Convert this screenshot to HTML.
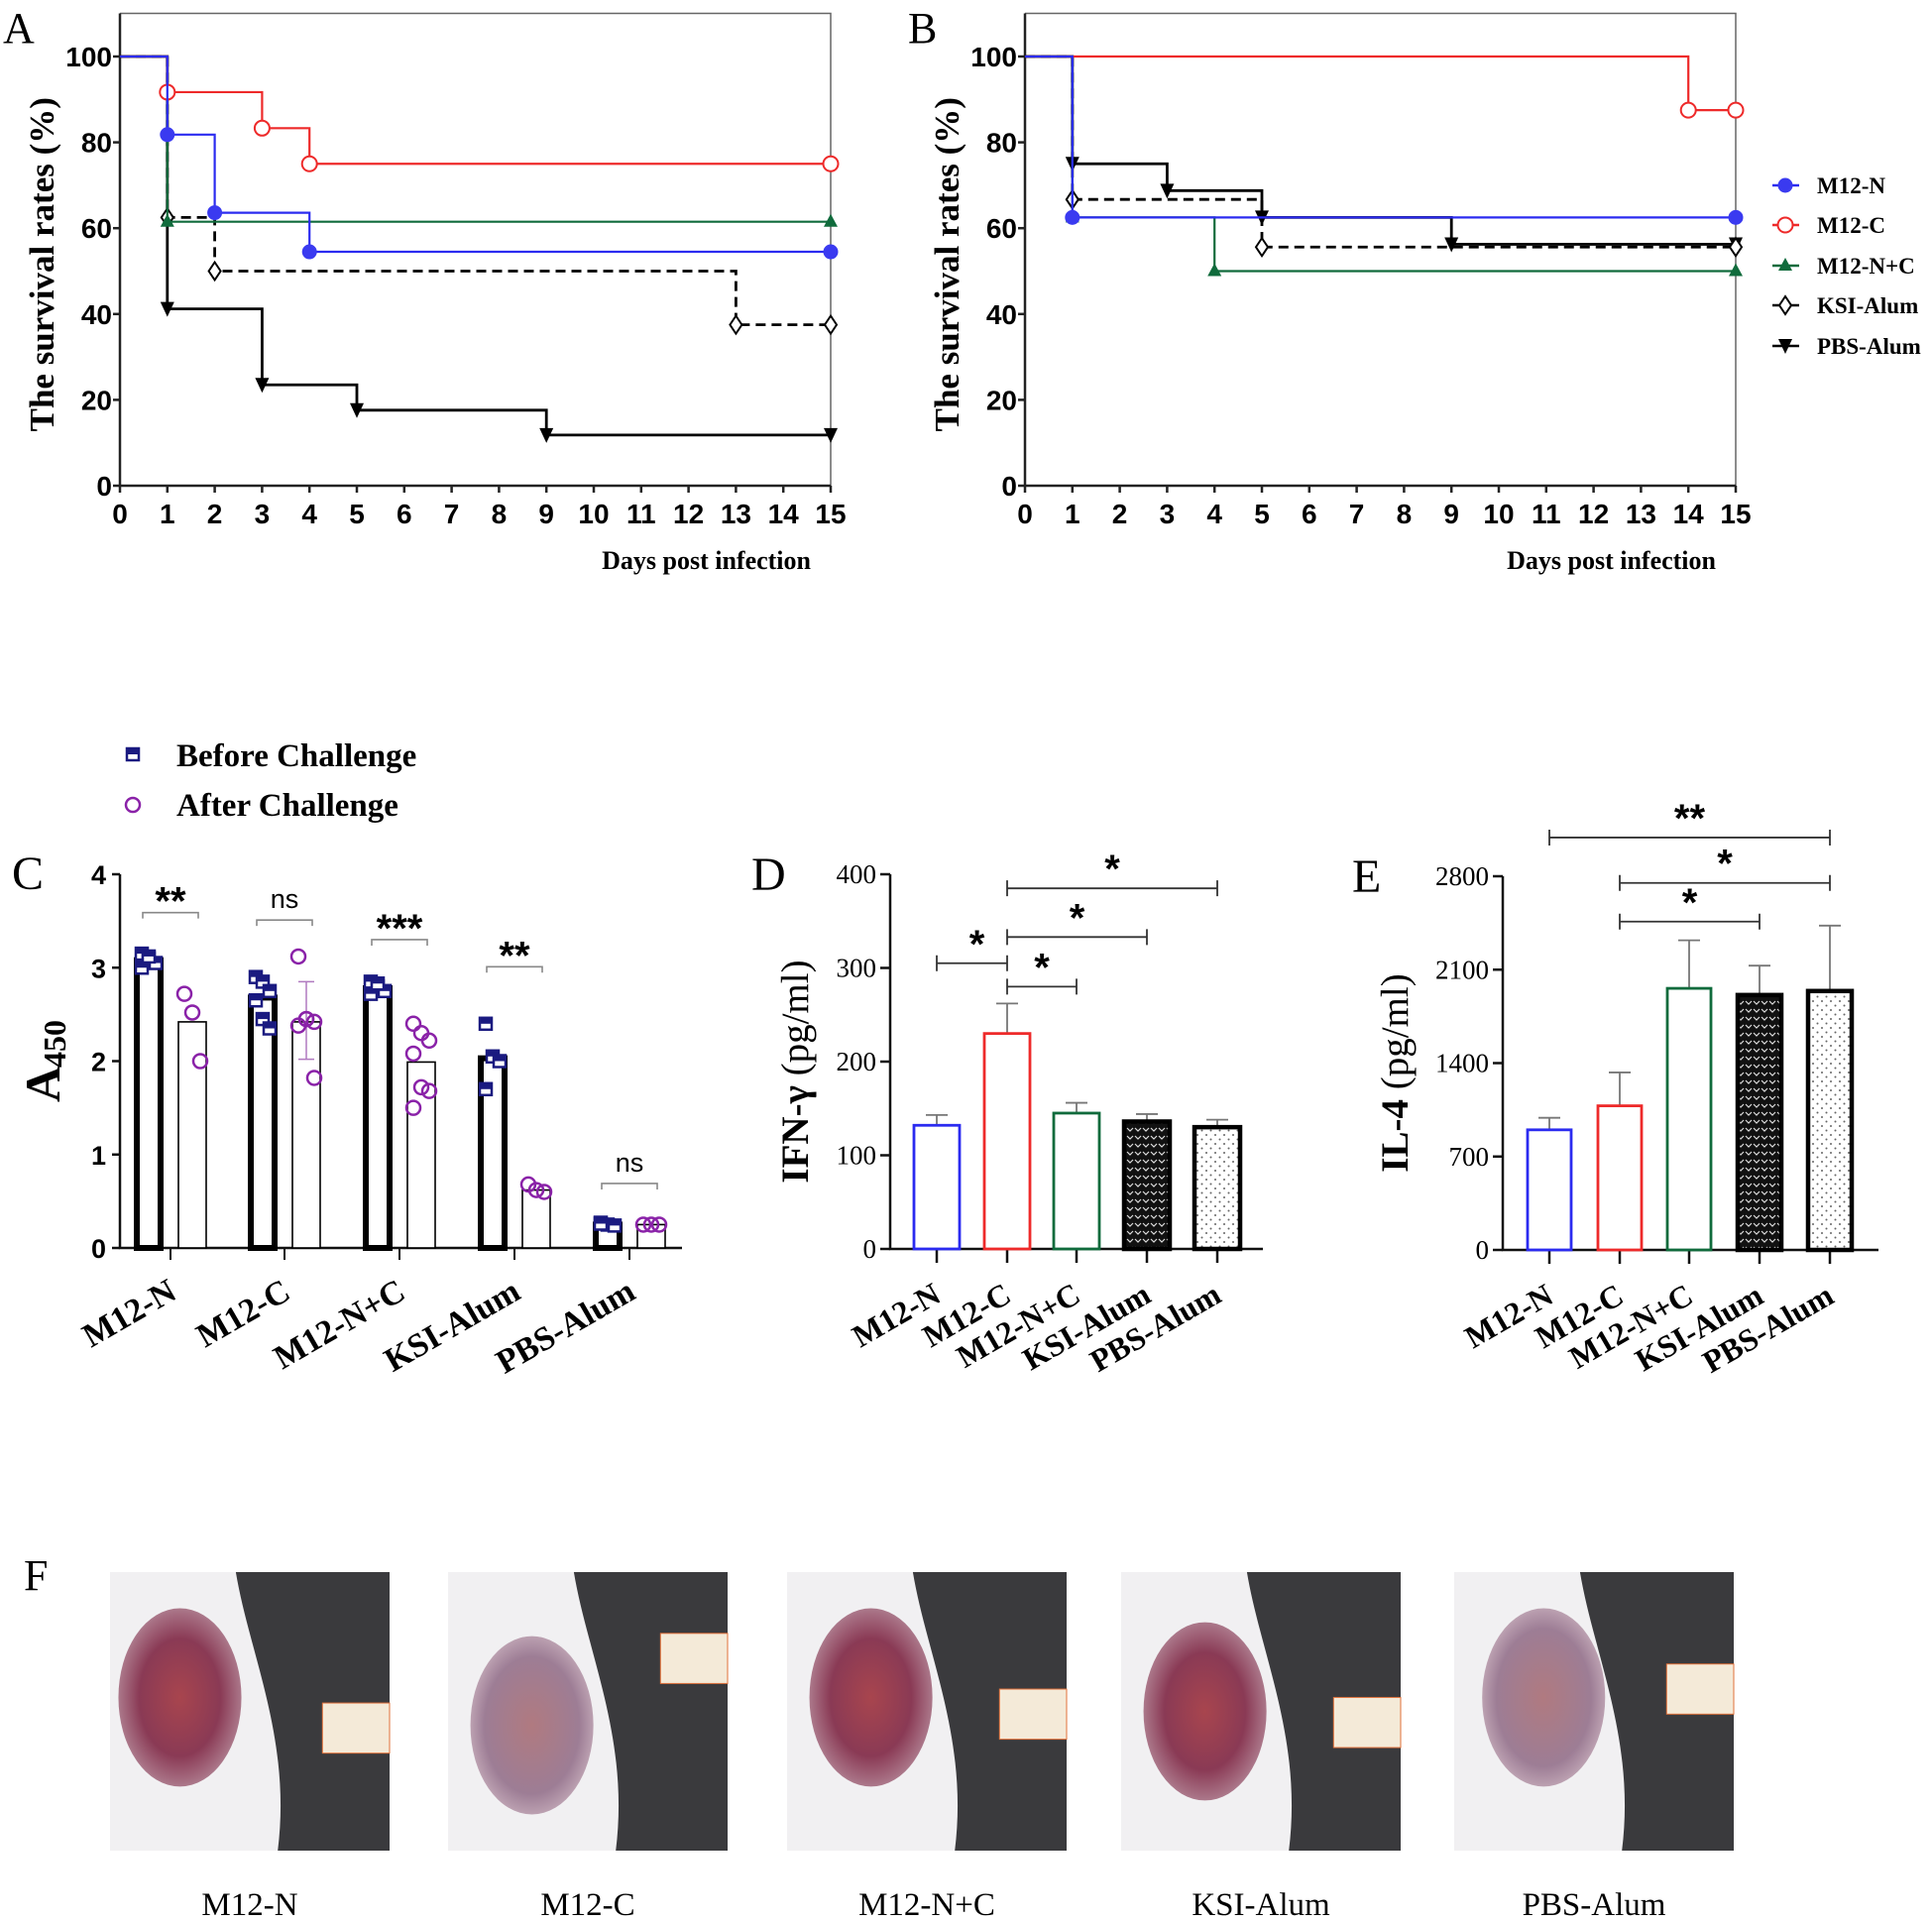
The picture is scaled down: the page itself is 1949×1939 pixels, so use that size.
<!DOCTYPE html>
<html><head><meta charset="utf-8">
<style>
html,body{margin:0;padding:0;background:#fff;}
svg{display:block;}
.ser{font-family:"Liberation Serif",serif;}
.nar{font-family:"Liberation Sans Narrow","Liberation Sans",sans-serif;font-weight:bold;}
.san{font-family:"Liberation Sans",sans-serif;}
</style></head>
<body>
<svg id="fig" xmlns="http://www.w3.org/2000/svg" width="1949" height="1939" viewBox="0 0 1949 1939">
<defs>
<pattern id="patKSI" width="8" height="8" patternUnits="userSpaceOnUse">
<rect width="8" height="8" fill="#111"/>
<path d="M1 2 L4 5 L7 2" stroke="#ddd" stroke-width="1.2" fill="none"/>
</pattern>
<pattern id="patPBS" width="9" height="9" patternUnits="userSpaceOnUse">
<rect width="9" height="9" fill="#fff"/>
<circle cx="2" cy="2" r="1" fill="#666"/><circle cx="6.5" cy="6.5" r="1" fill="#666"/>
</pattern>
<radialGradient id="wound" cx="50%" cy="50%" r="55%">
<stop offset="0" stop-color="#a8454e"/><stop offset="0.6" stop-color="#8a3a55"/><stop offset="1" stop-color="#b58a9a"/>
</radialGradient>
<radialGradient id="wound2" cx="50%" cy="50%" r="55%">
<stop offset="0" stop-color="#b07a80"/><stop offset="0.7" stop-color="#9d7d95"/><stop offset="1" stop-color="#c9b0bd"/>
</radialGradient>
</defs>
<g id="root"></g>
</svg>
<script>
// ---------- Panel A / B survival data ----------
const survDaysA_N = [1, 2, 4];
const survValsA_N = [81.8, 63.6, 54.5];
const survDaysA_C = [1, 3, 4];
const survValsA_C = [91.7, 83.3, 75];
const survDaysA_NC = [1];
const survValsA_NC = [61.5];
const survDaysA_KSI = [1, 2, 13];
const survValsA_KSI = [62.5, 50, 37.5];
const survDaysA_PBS = [1, 3, 5, 9];
const survValsA_PBS = [41.2, 23.5, 17.6, 11.8];

const survDaysB_N = [1];
const survValsB_N = [62.5];
const survDaysB_C = [14];
const survValsB_C = [87.5];
const survDaysB_NC = [1, 4];
const survValsB_NC = [62.5, 50];
const survDaysB_KSI = [1, 5];
const survValsB_KSI = [66.7, 55.6];
const survDaysB_PBS = [1, 3, 5, 9];
const survValsB_PBS = [75, 68.75, 62.5, 56.25];

const survYTicks = [0, 20, 40, 60, 80, 100];
const survXTicks = [0,1,2,3,4,5,6,7,8,9,10,11,12,13,14,15];
const seriesNames = ["M12-N", "M12-C", "M12-N+C", "KSI-Alum", "PBS-Alum"];

// ---------- Panel C data ----------
const groupsC = ["M12-N", "M12-C", "M12-N+C", "KSI-Alum", "PBS-Alum"];
const beforeMeans = [3.08, 2.68, 2.78, 2.03, 0.25];
const afterMeans = [2.42, 2.42, 1.99, 0.62, 0.25];
const afterErrLo = [2.42, 2.02, 1.99, 0.62, 0.25];
const afterErrHi = [2.42, 2.85, 1.99, 0.62, 0.25];
const beforePts = [[3.15,3.1,3.05,3.0,3.12],[2.9,2.85,2.75,2.65,2.45,2.35],[2.85,2.8,2.75,2.72,2.83],[2.4,2.05,2.0,1.7],[0.27,0.25,0.24,0.26]];
const afterPts = [[2.72,2.52,2.0],[3.12,2.45,2.42,2.38,2.45,1.82],[2.4,2.3,2.22,2.08,1.72,1.68,1.5],[0.68,0.62,0.6],[0.25,0.25,0.25]];
const sigC = ["**", "ns", "***", "**", "ns"];
const sigCLevel = [3.59, 3.51, 3.3, 3.01, 0.69];
const cYTicks = [0, 1, 2, 3, 4];

// ---------- Panel D data ----------
const groupsD = ["M12-N", "M12-C", "M12-N+C", "KSI-Alum", "PBS-Alum"];
const ifnMeans = [132, 230, 145, 136, 130];
const ifnErrHi = [143, 262, 156, 144, 138];
const dYTicks = [0, 100, 200, 300, 400];
const dBrFrom = [1, 1, 1, 1];
const dBrTo = [0, 2, 3, 4];
const dBrLevel = [305, 280, 333, 385];

// ---------- Panel E data ----------
const il4Means = [900, 1080, 1960, 1910, 1940];
const il4ErrHi = [990, 1330, 2320, 2130, 2430];
const eYTicks = [0, 700, 1400, 2100, 2800];
const eBrFrom = [0, 1, 1];
const eBrTo = [4, 4, 3];
const eBrLevel = [3090, 2750, 2460];
const eBrLabel = ["**", "*", "*"];

const NS = "http://www.w3.org/2000/svg";
const root = document.getElementById("root");
function mk(tag, attrs, parent) {
  const e = document.createElementNS(NS, tag);
  for (const k in attrs) e.setAttribute(k, attrs[k]);
  (parent || root).appendChild(e);
  return e;
}
function txt(str, attrs, parent) {
  const e = mk("text", attrs, parent);
  e.textContent = str;
  return e;
}

// ================= Survival panels =================
const colors = ["#2b2bf0", "#ee2a2a", "#106b3c", "#000", "#000"];
function marker(g, type, x, y) {
  let m;
  if (type === 0) m = mk("circle", {cx:x, cy:y, r:7, fill:"#3a3af0", stroke:"#3a3af0"}, g);
  else if (type === 1) m = mk("circle", {cx:x, cy:y, r:7.5, fill:"#fff", stroke:"#ee2a2a", "stroke-width":2}, g);
  else if (type === 2) m = mk("path", {d:`M${x} ${y-8} L${x+7} ${y+5} L${x-7} ${y+5}Z`, fill:"#106b3c"}, g);
  else if (type === 3) m = mk("path", {d:`M${x} ${y-9} L${x+6} ${y} L${x} ${y+9} L${x-6} ${y}Z`, fill:"#fff", stroke:"#000", "stroke-width":2}, g);
  else m = mk("path", {d:`M${x-7} ${y-7} L${x+7} ${y-7} L${x} ${y+8}Z`, fill:"#000"}, g);
  
  
  return m;
}
function survPanel(name, letter, x0, days, vals) {
  const L = x0, R = x0 + 717, T = 13.5, Y100 = 57, Y0 = 490;
  const xs = d => L + d * (R - L) / 15;
  const ys = v => Y0 - v * (Y0 - Y100) / 100;
  const g = mk("g", {});
  
  
  const lt = txt(letter, {x:x0 - 118, y:43, class:"ser", "font-size":44}, g);
  
  
  const fr = mk("path", {d:`M${L} ${T} H${R} V${Y0}`, fill:"none", stroke:"#666", "stroke-width":1.5}, g);
  
  
  const ax = mk("path", {d:`M${L} ${T} V${Y0} H${R}`, fill:"none", stroke:"#222", "stroke-width":2.5}, g);
  
  
  survYTicks.forEach(v => {
    const t = mk("line", {x1:L-7, x2:L, y1:ys(v), y2:ys(v), stroke:"#222", "stroke-width":2.5}, g);
    
    
    const tl = txt(String(v), {x:L-8, y:ys(v)+10, "text-anchor":"end", class:"nar", "font-size":28}, g);
    
    
  });
  survXTicks.forEach(d => {
    const t = mk("line", {x1:xs(d), x2:xs(d), y1:Y0, y2:Y0+7, stroke:"#222", "stroke-width":2.5}, g);
    
    
    const tl = txt(String(d), {x:xs(d), y:Y0+38, "text-anchor":"middle", class:"nar", "font-size":28}, g);
    
    
  });
  const yt = txt("The survival rates (%)", {x:0, y:0, transform:`translate(${L-67},${(T+Y0)/2+15}) rotate(-90)`, "text-anchor":"middle", class:"ser", "font-weight":"bold", "font-size":35}, g);
  
  
  const xt = txt("Days post infection", {x:R-20, y:574, "text-anchor":"end", class:"ser", "font-weight":"bold", "font-size":26}, g);
  
  
  [4,3,2,1,0].forEach(s => {
    let d = `M${xs(0)} ${ys(100)}`;
    days[s].forEach((dd, i) => { d += ` H${xs(dd)} V${ys(vals[s][i])}`; });
    d += ` H${xs(15)}`;
    const p = mk("path", {d:d, fill:"none", stroke:colors[s], "stroke-width": s >= 3 ? 2.8 : 2.2, "stroke-dasharray": s === 3 ? "10 6" : "none"}, g);
    
    
    days[s].forEach((dd, i) => marker(g, s, xs(dd), ys(vals[s][i])));
    marker(g, s, xs(15), ys(vals[s][vals[s].length-1]));
  });
  return g;
}
survPanel("survival-chart-a", "A", 121, [survDaysA_N, survDaysA_C, survDaysA_NC, survDaysA_KSI, survDaysA_PBS], [survValsA_N, survValsA_C, survValsA_NC, survValsA_KSI, survValsA_PBS]);
survPanel("survival-chart-b", "B", 1034, [survDaysB_N, survDaysB_C, survDaysB_NC, survDaysB_KSI, survDaysB_PBS], [survValsB_N, survValsB_C, survValsB_NC, survValsB_KSI, survValsB_PBS]);

const legY = [187, 227, 268, 308, 349];
const leg = mk("g", {});


seriesNames.forEach((n, i) => {
  const ln = mk("line", {x1:1788, x2:1815, y1:legY[i], y2:legY[i], stroke:colors[i], "stroke-width":2.5}, leg);
  
  
  marker(leg, i, 1801, legY[i]);
  const t = txt(n, {x:1833, y:legY[i]+8, class:"ser", "font-weight":"bold", "font-size":23}, leg);
  
  
});

// ================= Panel C =================
(function(){
  const L = 121, R = 688, Y0 = 1259, Y4 = 882;
  const ys = v => Y0 - v * (Y0 - Y4) / 4;
  const ticksX = [172, 287, 403, 519, 635];
  const g = mk("g", {});
  
  
  const lt = txt("C", {x:12, y:897, class:"ser", "font-size":48}, g);
  
  
  const s1 = mk("rect", {x:128, y:755, width:12, height:12, fill:"#fff", stroke:"#1a1a80", "stroke-width":2.5}, g);
  
  
  const s1b = mk("rect", {x:128, y:755, width:12, height:6, fill:"#1a1a80"}, g);
  
  
  const t1 = txt("Before Challenge", {x:178, y:773, class:"ser", "font-weight":"bold", "font-size":33}, g);
  
  
  const c1 = mk("circle", {cx:134, cy:812, r:7, fill:"none", stroke:"#8a22a8", "stroke-width":2.5}, g);
  
  
  const t2 = txt("After Challenge", {x:178, y:823, class:"ser", "font-weight":"bold", "font-size":33}, g);
  
  
  const ax = mk("path", {d:`M${L} ${Y4} V${Y0} H${R}`, fill:"none", stroke:"#111", "stroke-width":2.5}, g);
  
  
  cYTicks.forEach(v => {
    const t = mk("line", {x1:L-8, x2:L, y1:ys(v), y2:ys(v), stroke:"#111", "stroke-width":2.5}, g);
    
    
    const tl = txt(String(v), {x:L-14, y:ys(v)+10, "text-anchor":"end", class:"san", "font-weight":"bold", "font-size":27}, g);
    
    
  });
  const yt = txt("A", {x:0, y:0, transform:`translate(60,1112) rotate(-90)`, class:"ser", "font-weight":"bold", "font-size":50}, g);
  
  
  const ys2 = txt("450", {x:0, y:0, transform:`translate(66,1077) rotate(-90)`, class:"ser", "font-weight":"bold", "font-size":32}, g);
  
  
  groupsC.forEach((name, i) => {
    const tx = ticksX[i], bx = tx - 22, axx = tx + 22;
    const t = mk("line", {x1:tx, x2:tx, y1:Y0, y2:Y0+12, stroke:"#111", "stroke-width":2}, g);
    
    
    const b = mk("rect", {x:bx-12, y:ys(beforeMeans[i]), width:24, height:Y0-ys(beforeMeans[i]), fill:"#fff", stroke:"#000", "stroke-width":6}, g);
    
    
    const a = mk("rect", {x:axx-14, y:ys(afterMeans[i]), width:28, height:Y0-ys(afterMeans[i]), fill:"#fff", stroke:"#000", "stroke-width":1.6}, g);
    
    
    if (afterErrHi[i] !== afterErrLo[i]) {
      const e = mk("path", {d:`M${axx} ${ys(afterErrLo[i])} V${ys(afterErrHi[i])} M${axx-8} ${ys(afterErrHi[i])} H${axx+8} M${axx-8} ${ys(afterErrLo[i])} H${axx+8}`, stroke:"#b07ac0", "stroke-width":1.5, fill:"none"}, g);
      
      
    }
    beforePts[i].forEach((v, k) => {
      const px = bx + ((k % 3) - 1) * 7;
      const p = mk("rect", {x:px-6, y:ys(v)-6, width:12, height:12, fill:"#fff", stroke:"#1a1a80", "stroke-width":2.5}, g);
      
      
      const pf = mk("rect", {x:px-6, y:ys(v)-6, width:12, height:6, fill:"#1a1a80"}, g);
      
      
    });
    afterPts[i].forEach((v, k) => {
      const px = axx + ((k % 3) - 1) * 8;
      const p = mk("circle", {cx:px, cy:ys(v), r:7, fill:"none", stroke:"#8a22a8", "stroke-width":2.5}, g);
      
      
    });
    const by = ys(sigCLevel[i]);
    const br = mk("path", {d:`M${bx-6} ${by+6} V${by} H${axx+6} V${by+6}`, stroke:"#888", "stroke-width":1.6, fill:"none"}, g);
    
    
    const st = txt(sigC[i], {x:tx, y: by - (sigC[i] === "ns" ? 12 : -2), "text-anchor":"middle", class:"san", "font-weight": sigC[i]==="ns" ? "normal" : "bold", "font-size": sigC[i]==="ns" ? 27 : 40}, g);
    
    
    const cl = txt(name, {x:0, y:0, transform:`translate(${tx+8},${Y0+50}) rotate(-30)`, "text-anchor":"end", class:"ser", "font-weight":"bold", "font-size":34}, g);
    
    
  });
})();

// ================= Panels D / E =================
const barStroke = ["#2b2bf0", "#ee2a2a", "#106b3c", "#000", "#000"];
const barFill = ["#fff", "#fff", "#fff", "url(#patKSI)", "url(#patPBS)"];
function cytoPanel(cfg) {
  const {name, letter, L, R, Y0, YT, maxV, ticksX, ticks, means, errs, title1, title2, letterX, titleX, brFrom, brTo, brLevel, brLabel, bw} = cfg;
  const ys = v => Y0 - v * (Y0 - YT) / maxV;
  const g = mk("g", {});
  
  
  const lt = txt(letter, {x:letterX, y:YT+16, class:"ser", "font-size":48}, g);
  
  
  const ax = mk("path", {d:`M${L} ${YT} V${Y0} H${R}`, fill:"none", stroke:"#111", "stroke-width":2.5}, g);
  
  
  ticks.forEach(v => {
    const t = mk("line", {x1:L-10, x2:L, y1:ys(v), y2:ys(v), stroke:"#111", "stroke-width":2.5}, g);
    
    
    const tl = txt(String(v), {x:L-14, y:ys(v)+9, "text-anchor":"end", class:"ser", "font-size":27}, g);
    
    
  });
  const yt = mk("text", {x:0, y:0, transform:`translate(${titleX},${(YT+Y0)/2+10}) rotate(-90)`, "text-anchor":"middle", class:"ser", "font-size":39}, g);
  
  
  const ts1 = document.createElementNS(NS, "tspan"); ts1.setAttribute("font-weight","bold"); ts1.textContent = title1; yt.appendChild(ts1);
  const ts2 = document.createElementNS(NS, "tspan"); ts2.textContent = title2; yt.appendChild(ts2);
  groupsD.forEach((gn, i) => {
    const tx = ticksX[i];
    const t = mk("line", {x1:tx, x2:tx, y1:Y0, y2:Y0+14, stroke:"#111", "stroke-width":2.5}, g);
    
    
    const e = mk("path", {d:`M${tx} ${ys(means[i])} V${ys(errs[i])} M${tx-11} ${ys(errs[i])} H${tx+11}`, stroke:"#777", "stroke-width":1.8, fill:"none"}, g);
    
    
    const sw = i >= 3 ? 4.5 : 2.8;
    const b = mk("rect", {x:tx-bw/2, y:ys(means[i]), width:bw, height:Y0-ys(means[i]), fill:barFill[i], stroke:barStroke[i], "stroke-width":sw}, g);
    
    
    const cl = txt(gn, {x:0, y:0, transform:`translate(${tx+6},${Y0+52}) rotate(-30)`, "text-anchor":"end", class:"ser", "font-weight":"bold", "font-size":32}, g);
    
    
  });
  brFrom.forEach((f, k) => {
    const x1 = ticksX[f], x2 = ticksX[brTo[k]], y = ys(brLevel[k]);
    const lo = Math.min(x1, x2), hi = Math.max(x1, x2);
    const br = mk("path", {d:`M${lo} ${y-8} V${y+8} M${lo} ${y} H${hi} M${hi} ${y-8} V${y+8}`, stroke:"#333", "stroke-width":1.8, fill:"none"}, g);
    
    
    const st = txt(brLabel[k], {x:(lo+hi)/2 + (cfg.starShift ? cfg.starShift[k] : 0), y:y-6, "text-anchor":"middle", class:"san", "font-weight":"bold", "font-size":40}, g);
    
    
  });
}
cytoPanel({name:"ifn-gamma-chart-d", letter:"D", L:898, R:1274, Y0:1260, YT:882, maxV:400,
  ticksX:[945,1016,1086,1157,1228], ticks:dYTicks, means:ifnMeans, errs:ifnErrHi,
  title1:"IFN-γ", title2:" (pg/ml)", letterX:758, titleX:815, bw:46,
  brFrom:dBrFrom, brTo:dBrTo, brLevel:dBrLevel, brLabel:["*","*","*","*"], starShift:[5,0,0,0]});
cytoPanel({name:"il4-chart-e", letter:"E", L:1516, R:1895, Y0:1261, YT:884, maxV:2800,
  ticksX:[1563,1634,1704,1775,1846], ticks:eYTicks, means:il4Means, errs:il4ErrHi,
  title1:"IL-4", title2:" (pg/ml)", letterX:1364, titleX:1420, bw:44,
  brFrom:eBrFrom, brTo:eBrTo, brLevel:eBrLevel, brLabel:eBrLabel});

// ================= Panel F photos =================
(function(){
  const g = mk("g", {});
  
  
  const lt = txt("F", {x:24, y:1604, class:"ser", "font-size":44}, g);
  
  
  const px = [111, 452, 794, 1131, 1467];
  const labels = ["M12-N", "M12-C", "M12-N+C", "KSI-Alum", "PBS-Alum"];
  const rulerY = [0.47, 0.22, 0.42, 0.45, 0.33];
  const woundC = [[0.25,0.45],[0.3,0.55],[0.3,0.45],[0.3,0.5],[0.32,0.45]];
  px.forEach((x, i) => {
    const w = 282, h = 281, y = 1586;
    const ph = mk("g", {}, g);
    
    
    const bg = mk("rect", {x:x, y:y, width:w, height:h, fill:"#3a3a3d"}, ph);
    
    
    const fur = mk("path", {d:`M${x} ${y} H${x+w*0.45} C${x+w*0.5} ${y+h*0.3} ${x+w*0.65} ${y+h*0.6} ${x+w*0.6} ${y+h} H${x}Z`, fill:"#f1f0f2"}, ph);
    
    
    const wd = mk("ellipse", {cx:x+w*woundC[i][0], cy:y+h*woundC[i][1], rx:w*0.22, ry:h*0.32, fill: i===1||i===4 ? "url(#wound2)" : "url(#wound)"}, ph);
    
    
    const ru = mk("rect", {x:x+w*0.76, y:y+h*rulerY[i], width:w*0.24, height:h*0.18, fill:"#f4ead8", stroke:"#e0703a", "stroke-width":1}, ph);
    
    
    const lb = txt(labels[i], {x:x+w/2, y:1932, "text-anchor":"middle", class:"ser", "font-size":33}, g);
    
    
  });
})();
</script>
</body></html>
